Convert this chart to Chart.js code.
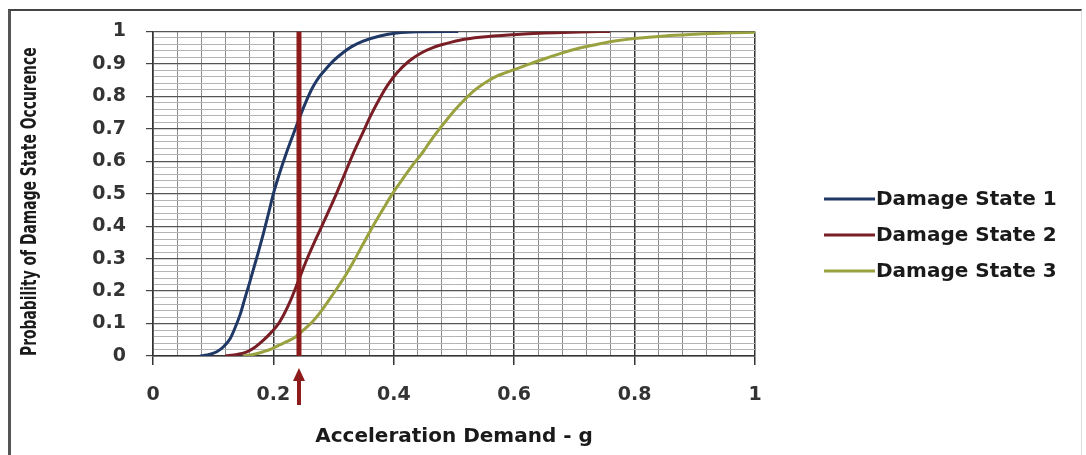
<!DOCTYPE html>
<html lang="en">
<head>
    <meta charset="UTF-8">
    <title>Fragility Curves</title>
    <script src="https://cdn.jsdelivr.net/npm/chart.js"></script>
    <style>
        body {
            margin: 0;
            background: #fff;
        }
        #wrap {
            position: relative;
            width: 1086px;
            height: 455px;
            overflow: hidden;
        }
        #frame {
            position: absolute;
            left: 8px;
            top: 9px;
            width: 1070px;
            height: 470px;
            border-top: 2px solid #444;
            border-left: 3px solid #555;
            border-right: 1px solid #ddd;
            pointer-events: none;
        }
    </style>
</head>
<body>
<div id="wrap">
    <canvas id="fragChart" width="1086" height="455"></canvas>
    <div id="frame"></div>
</div>

<script>
    // values (acceleration in g, probability)
    const ds1X = [0.078, 0.09, 0.106, 0.118, 0.128, 0.137, 0.145, 0.153, 0.161, 0.168, 0.175, 0.183, 0.192, 0.200, 0.208, 0.215, 0.222, 0.229, 0.236, 0.243, 0.250, 0.258, 0.266, 0.277, 0.289, 0.300, 0.316, 0.330, 0.349, 0.377, 0.405, 0.440, 0.507];
    const ds1Y = [0, 0.003, 0.013, 0.03, 0.053, 0.09, 0.129, 0.18, 0.229, 0.275, 0.32, 0.375, 0.44, 0.50, 0.55, 0.59, 0.628, 0.663, 0.698, 0.732, 0.765, 0.80, 0.83, 0.862, 0.888, 0.91, 0.935, 0.953, 0.97, 0.986, 0.995, 0.999, 1.0];

    const ds2X = [0.12, 0.14, 0.156, 0.17, 0.183, 0.196, 0.208, 0.218, 0.228, 0.241, 0.255, 0.268, 0.278, 0.289, 0.300, 0.316, 0.326, 0.336, 0.349, 0.362, 0.377, 0.390, 0.405, 0.425, 0.444, 0.465, 0.488, 0.515, 0.543, 0.598, 0.650, 0.709, 0.759];
    const ds2Y = [0, 0.005, 0.013, 0.028, 0.048, 0.072, 0.098, 0.13, 0.169, 0.229, 0.295, 0.35, 0.39, 0.435, 0.48, 0.55, 0.595, 0.638, 0.69, 0.742, 0.795, 0.835, 0.872, 0.908, 0.932, 0.95, 0.963, 0.975, 0.982, 0.99, 0.995, 0.998, 1.0];

    const ds3X = [0.15, 0.17, 0.183, 0.197, 0.211, 0.224, 0.236, 0.25, 0.266, 0.28, 0.294, 0.308, 0.322, 0.335, 0.349, 0.366, 0.383, 0.396, 0.41, 0.43, 0.449, 0.46, 0.474, 0.488, 0.50, 0.515, 0.53, 0.543, 0.557, 0.571, 0.585, 0.60, 0.626, 0.654, 0.68, 0.709, 0.74, 0.77, 0.80, 0.85, 0.90, 0.95, 1.0];
    const ds3Y = [0, 0.006, 0.013, 0.022, 0.035, 0.046, 0.058, 0.08, 0.108, 0.14, 0.177, 0.215, 0.255, 0.297, 0.345, 0.402, 0.455, 0.495, 0.533, 0.585, 0.63, 0.66, 0.695, 0.728, 0.755, 0.785, 0.812, 0.831, 0.848, 0.862, 0.872, 0.882, 0.90, 0.918, 0.934, 0.949, 0.961, 0.971, 0.978, 0.986, 0.991, 0.995, 0.997];

    const seriesLabels = ['Damage State 1', 'Damage State 2', 'Damage State 3'];
    const seriesColors = ['#1f3866', '#7a1e26', '#9aa23f'];

    // demand marker (vertical line + arrow under the axis)
    const markerX = 0.2425;
    const markerColor = '#8e1b1b';

    const xTickLabels = ['0', '0.2', '0.4', '0.6', '0.8', '1'];
    const yTickLabels = ['0', '0.1', '0.2', '0.3', '0.4', '0.5', '0.6', '0.7', '0.8', '0.9', '1'];
    const yTitle = 'Probability of Damage State Occurence';

    function toPoints(xs, ys) {
        return xs.map((x, i) => ({ x: x, y: ys[i] }));
    }

    const legendPlugin = {
        id: 'sideLegend',
        afterDraw(chart) {
            const ctx = chart.ctx;
            const rows = [199, 235, 271];
            ctx.save();
            chart.data.datasets.forEach((ds, i) => {
                if (!ds.label) return;
                const y = rows[i];
                ctx.strokeStyle = ds.borderColor;
                ctx.lineWidth = 3;
                ctx.beginPath();
                ctx.moveTo(824, y);
                ctx.lineTo(875, y);
                ctx.stroke();
                ctx.fillStyle = '#1a1a1a';
                ctx.font = 'bold 20px "DejaVu Sans", sans-serif';
                ctx.textAlign = 'left';
                ctx.textBaseline = 'middle';
                ctx.fillText(ds.label, 876, y + 1);
            });
            ctx.restore();
        }
    };

    // y title is narrow in the original, squeeze it to the axis height
    const yTitlePlugin = {
        id: 'narrowYTitle',
        afterDraw(chart) {
            const ctx = chart.ctx;
            const area = chart.chartArea;
            const len = area.bottom - area.top - 16;
            ctx.save();
            ctx.font = 'bold 21px "DejaVu Sans", sans-serif';
            const w = ctx.measureText(yTitle).width;
            const k = Math.min(1, len / w);
            ctx.translate(31, area.bottom);
            ctx.rotate(-Math.PI / 2);
            ctx.scale(k, 1);
            ctx.fillStyle = '#1a1a1a';
            ctx.textAlign = 'left';
            ctx.textBaseline = 'middle';
            ctx.fillText(yTitle, 0, 0);
            ctx.restore();
        }
    };

    const arrowPlugin = {
        id: 'demandArrow',
        afterDraw(chart) {
            const ctx = chart.ctx;
            const px = chart.scales.x.getPixelForValue(markerX);
            ctx.save();
            ctx.fillStyle = markerColor;
            ctx.fillRect(px - 2, 378, 4, 27);
            ctx.beginPath();
            ctx.moveTo(px, 368);
            ctx.lineTo(px - 6, 381);
            ctx.lineTo(px + 6, 381);
            ctx.closePath();
            ctx.fill();
            ctx.restore();
        }
    };

    const isMajor = (v, step) => Math.abs(Math.round(v * 100) % step) === 0;

    new Chart(document.getElementById('fragChart'), {
        type: 'scatter',
        data: {
            datasets: [
                { label: seriesLabels[0], data: toPoints(ds1X, ds1Y), borderColor: seriesColors[0] },
                { label: seriesLabels[1], data: toPoints(ds2X, ds2Y), borderColor: seriesColors[1] },
                { label: seriesLabels[2], data: toPoints(ds3X, ds3Y), borderColor: seriesColors[2] },
                {
                    label: '',
                    data: [{ x: markerX, y: 0 }, { x: markerX, y: 1 }],
                    borderColor: markerColor,
                    borderWidth: 5,
                    tension: 0,
                    order: -1
                }
            ].map(ds => Object.assign({
                showLine: true,
                borderWidth: 3,
                pointRadius: 0,
                cubicInterpolationMode: 'monotone',
                fill: false
            }, ds))
        },
        options: {
            responsive: false,
            animation: false,
            layout: { padding: { left: 8, right: 331, top: 24, bottom: 0 } },
            plugins: {
                legend: { display: false },
                tooltip: { enabled: false }
            },
            scales: {
                x: {
                    type: 'linear',
                    min: 0,
                    max: 1,
                    afterFit: (s) => { s.height = 99; },
                    ticks: {
                        stepSize: 0.04,
                        autoSkip: false,
                        maxRotation: 0,
                        padding: 19,
                        color: '#333',
                        font: { family: '"DejaVu Sans", sans-serif', size: 19, weight: 'bold' },
                        callback: (v) => isMajor(v, 20) ? xTickLabels[Math.round(v * 5)] : ''
                    },
                    grid: {
                        color: (c) => isMajor(c.tick.value, 20) ? '#333' : '#8a8a8a',
                        lineWidth: (c) => isMajor(c.tick.value, 20) ? 1.5 : 1,
                        tickLength: 9,
                        tickColor: (c) => isMajor(c.tick.value, 20) ? '#333' : 'rgba(0,0,0,0)'
                    },
                    border: { color: '#333', width: 1.5 },
                    title: {
                        display: true,
                        text: 'Acceleration Demand - g',
                        color: '#1a1a1a',
                        font: { family: '"DejaVu Sans", sans-serif', size: 20, weight: 'bold' },
                        padding: { top: 0, bottom: 6 }
                    }
                },
                y: {
                    type: 'linear',
                    min: 0,
                    max: 1,
                    afterFit: (s) => { s.width = 145; },
                    ticks: {
                        stepSize: 0.02,
                        autoSkip: false,
                        padding: 20,
                        color: '#333',
                        font: { family: '"DejaVu Sans", sans-serif', size: 19, weight: 'bold' },
                        callback: (v) => isMajor(v, 10) ? yTickLabels[Math.round(v * 10)] : ''
                    },
                    grid: {
                        color: (c) => isMajor(c.tick.value, 10) ? '#555' : '#b4b4b4',
                        lineWidth: (c) => isMajor(c.tick.value, 10) ? 1.2 : 1,
                        tickLength: 7,
                        tickColor: (c) => isMajor(c.tick.value, 10) ? '#444' : 'rgba(0,0,0,0)'
                    },
                    border: { color: '#333', width: 1.5 },
                    title: { display: false }
                }
            }
        },
        plugins: [legendPlugin, yTitlePlugin, arrowPlugin]
    });
</script>
</body>
</html>
